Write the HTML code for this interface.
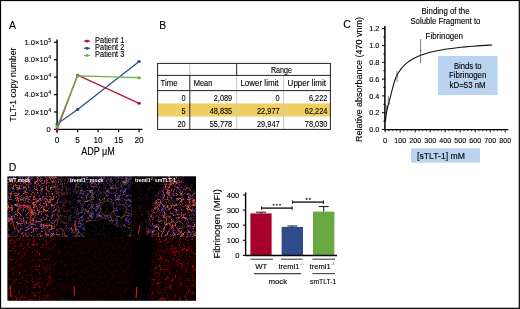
<!DOCTYPE html>
<html><head><meta charset="utf-8"><style>
html,body{margin:0;padding:0;background:#fff;}
svg{display:block;will-change:transform;}
text{font-family:"Liberation Sans", sans-serif;fill:#000;stroke:#000;stroke-width:0.12px;}
</style></head><body>
<svg width="520" height="309" viewBox="0 0 520 309">
<rect x="0" y="0" width="520" height="309" fill="#fff"/>
<text x="9" y="28.5" font-size="11.6" textLength="7" lengthAdjust="spacingAndGlyphs">A</text>
<line x1="57.1" y1="39.5" x2="57.1" y2="132.5" stroke="#000" stroke-width="1.45"/>
<line x1="54" y1="42.3" x2="57" y2="42.3" stroke="#000" stroke-width="1.2"/>
<text x="48" y="44.9" font-size="7.5" text-anchor="end" textLength="23.5" lengthAdjust="spacingAndGlyphs">1.0×10</text>
<text x="48.3" y="41.9" font-size="5.2">5</text>
<line x1="54" y1="59.7" x2="57" y2="59.7" stroke="#000" stroke-width="1.2"/>
<text x="48" y="62.3" font-size="7.5" text-anchor="end" textLength="23.5" lengthAdjust="spacingAndGlyphs">8.0×10</text>
<text x="48.3" y="59.3" font-size="5.2">4</text>
<line x1="54" y1="77.1" x2="57" y2="77.1" stroke="#000" stroke-width="1.2"/>
<text x="48" y="79.7" font-size="7.5" text-anchor="end" textLength="23.5" lengthAdjust="spacingAndGlyphs">6.0×10</text>
<text x="48.3" y="76.7" font-size="5.2">4</text>
<line x1="54" y1="94.6" x2="57" y2="94.6" stroke="#000" stroke-width="1.2"/>
<text x="48" y="97.2" font-size="7.5" text-anchor="end" textLength="23.5" lengthAdjust="spacingAndGlyphs">4.0×10</text>
<text x="48.3" y="94.2" font-size="5.2">4</text>
<line x1="54" y1="112.0" x2="57" y2="112.0" stroke="#000" stroke-width="1.2"/>
<text x="48" y="114.6" font-size="7.5" text-anchor="end" textLength="23.5" lengthAdjust="spacingAndGlyphs">2.0×10</text>
<text x="48.3" y="111.6" font-size="5.2">4</text>
<line x1="54" y1="129.4" x2="57" y2="129.4" stroke="#000" stroke-width="1.2"/>
<text x="50.7" y="132.2" font-size="7.5" text-anchor="end">0</text>
<line x1="56.4" y1="129.4" x2="142.4" y2="129.4" stroke="#000" stroke-width="1.3"/>
<line x1="57.1" y1="129.4" x2="57.1" y2="132.3" stroke="#000" stroke-width="1.2"/>
<text x="57.1" y="143.4" font-size="8.3" text-anchor="middle">0</text>
<line x1="77.6" y1="129.4" x2="77.6" y2="132.3" stroke="#000" stroke-width="1.2"/>
<text x="77.6" y="143.4" font-size="8.3" text-anchor="middle">5</text>
<line x1="98.1" y1="129.4" x2="98.1" y2="132.3" stroke="#000" stroke-width="1.2"/>
<text x="98.1" y="143.4" font-size="8.3" text-anchor="middle">10</text>
<line x1="118.6" y1="129.4" x2="118.6" y2="132.3" stroke="#000" stroke-width="1.2"/>
<text x="118.6" y="143.4" font-size="8.3" text-anchor="middle">15</text>
<line x1="139.1" y1="129.4" x2="139.1" y2="132.3" stroke="#000" stroke-width="1.2"/>
<text x="139.1" y="143.4" font-size="8.3" text-anchor="middle">20</text>
<text x="98" y="155.3" font-size="10.1" text-anchor="middle" textLength="33.6" lengthAdjust="spacingAndGlyphs">ADP μM</text>
<text transform="translate(16.2,84.7) rotate(-90)" font-size="9.5" text-anchor="middle" textLength="74" lengthAdjust="spacingAndGlyphs">TLT-1 copy number</text>
<polyline points="57.10,129.40 77.60,75.20 139.10,103.32" fill="none" stroke="#b3123a" stroke-width="1.25"/>
<ellipse cx="57.10" cy="129.40" rx="1.7" ry="1.5" fill="#b3123a"/>
<ellipse cx="77.60" cy="75.20" rx="1.7" ry="1.5" fill="#b3123a"/>
<ellipse cx="139.10" cy="103.32" rx="1.7" ry="1.5" fill="#b3123a"/>
<polyline points="57.10,123.98 77.60,109.39 139.10,61.44" fill="none" stroke="#2b4a8c" stroke-width="1.25"/>
<ellipse cx="57.10" cy="123.98" rx="1.7" ry="1.5" fill="#2b4a8c"/>
<ellipse cx="77.60" cy="109.39" rx="1.7" ry="1.5" fill="#2b4a8c"/>
<ellipse cx="139.10" cy="61.44" rx="1.7" ry="1.5" fill="#2b4a8c"/>
<polyline points="57.10,126.79 77.60,76.00 139.10,77.70" fill="none" stroke="#69b043" stroke-width="1.25"/>
<ellipse cx="57.10" cy="126.79" rx="1.7" ry="1.5" fill="#69b043"/>
<ellipse cx="77.60" cy="76.00" rx="1.7" ry="1.5" fill="#69b043"/>
<ellipse cx="139.10" cy="77.70" rx="1.7" ry="1.5" fill="#69b043"/>
<line x1="84" y1="41.1" x2="90" y2="41.1" stroke="#b3123a" stroke-width="1.1"/>
<path d="M84.4,41.1 L87,39.5 L89.6,41.1 L87,42.7 Z" fill="#b3123a"/>
<text x="95.1" y="43.0" font-size="8.6" textLength="29.2" lengthAdjust="spacingAndGlyphs">Patient 1</text>
<line x1="84" y1="48.3" x2="90" y2="48.3" stroke="#2b4a8c" stroke-width="1.1"/>
<path d="M84.4,48.3 L87,46.7 L89.6,48.3 L87,49.9 Z" fill="#2b4a8c"/>
<text x="95.1" y="50.2" font-size="8.6" textLength="29.2" lengthAdjust="spacingAndGlyphs">Patient 2</text>
<line x1="84" y1="55.5" x2="90" y2="55.5" stroke="#69b043" stroke-width="1.1"/>
<path d="M84.4,55.5 L87,53.9 L89.6,55.5 L87,57.1 Z" fill="#69b043"/>
<text x="95.1" y="57.4" font-size="8.6" textLength="29.2" lengthAdjust="spacingAndGlyphs">Patient 3</text>
<text x="159.2" y="28.6" font-size="11.4" textLength="6.9" lengthAdjust="spacingAndGlyphs">B</text>
<rect x="157.6" y="103.4" width="172.79999999999998" height="13.199999999999989" fill="#efce62"/>
<line x1="189.8" y1="63.4" x2="189.8" y2="75.4" stroke="#c8c8c8" stroke-width="1"/>
<line x1="236.7" y1="75.4" x2="236.7" y2="129.4" stroke="#c8c8c8" stroke-width="1"/>
<line x1="283.6" y1="75.4" x2="283.6" y2="129.4" stroke="#c8c8c8" stroke-width="1"/>
<line x1="189.8" y1="75.4" x2="189.8" y2="129.4" stroke="#222" stroke-width="1"/>
<line x1="236.7" y1="63.4" x2="236.7" y2="75.4" stroke="#222" stroke-width="1"/>
<line x1="157.6" y1="75.4" x2="330.4" y2="75.4" stroke="#222" stroke-width="1"/>
<line x1="157.6" y1="90.6" x2="330.4" y2="90.6" stroke="#222" stroke-width="1"/>
<rect x="157.6" y="63.4" width="172.79999999999998" height="66.0" fill="none" stroke="#222" stroke-width="1"/>
<text x="281.4" y="72.6" font-size="8.2" text-anchor="middle" textLength="21" lengthAdjust="spacingAndGlyphs">Range</text>
<text x="160.5" y="86.0" font-size="8.2" text-anchor="start" textLength="17" lengthAdjust="spacingAndGlyphs">Time</text>
<text x="193.8" y="86.0" font-size="8.2" text-anchor="start" textLength="18.6" lengthAdjust="spacingAndGlyphs">Mean</text>
<text x="240.4" y="86.0" font-size="8.2" text-anchor="start" textLength="38.2" lengthAdjust="spacingAndGlyphs">Lower limit</text>
<text x="287.6" y="86.0" font-size="8.2" text-anchor="start" textLength="38.4" lengthAdjust="spacingAndGlyphs">Upper limit</text>
<text x="185.6" y="100.89999999999999" font-size="8.2" text-anchor="end" textLength="4.1" lengthAdjust="spacingAndGlyphs">0</text>
<text x="232.2" y="100.89999999999999" font-size="8.2" text-anchor="end" textLength="18.46" lengthAdjust="spacingAndGlyphs">2,089</text>
<text x="279.6" y="100.89999999999999" font-size="8.2" text-anchor="end" textLength="4.1" lengthAdjust="spacingAndGlyphs">0</text>
<text x="327.4" y="100.89999999999999" font-size="8.2" text-anchor="end" textLength="18.46" lengthAdjust="spacingAndGlyphs">6,222</text>
<text x="185.6" y="113.7" font-size="8.2" text-anchor="end" textLength="4.1" lengthAdjust="spacingAndGlyphs">5</text>
<text x="232.2" y="113.7" font-size="8.2" text-anchor="end" textLength="22.57" lengthAdjust="spacingAndGlyphs">48,835</text>
<text x="279.6" y="113.7" font-size="8.2" text-anchor="end" textLength="22.57" lengthAdjust="spacingAndGlyphs">22,977</text>
<text x="327.4" y="113.7" font-size="8.2" text-anchor="end" textLength="22.57" lengthAdjust="spacingAndGlyphs">62,224</text>
<text x="185.6" y="126.89999999999999" font-size="8.2" text-anchor="end" textLength="8.21" lengthAdjust="spacingAndGlyphs">20</text>
<text x="232.2" y="126.89999999999999" font-size="8.2" text-anchor="end" textLength="22.57" lengthAdjust="spacingAndGlyphs">55,778</text>
<text x="279.6" y="126.89999999999999" font-size="8.2" text-anchor="end" textLength="22.57" lengthAdjust="spacingAndGlyphs">29,947</text>
<text x="327.4" y="126.89999999999999" font-size="8.2" text-anchor="end" textLength="22.57" lengthAdjust="spacingAndGlyphs">78,030</text>
<text x="343.2" y="28.4" font-size="11.4" textLength="7.6" lengthAdjust="spacingAndGlyphs">C</text>
<line x1="384.9" y1="26" x2="384.9" y2="130.4" stroke="#000" stroke-width="1.5"/>
<line x1="382" y1="129.5" x2="385.0" y2="129.5" stroke="#000" stroke-width="1"/>
<text x="379.3" y="132.1" font-size="7.3" text-anchor="end">0.0</text>
<line x1="383.3" y1="121.1" x2="385.0" y2="121.1" stroke="#000" stroke-width="1"/>
<line x1="382" y1="112.7" x2="385.0" y2="112.7" stroke="#000" stroke-width="1"/>
<text x="379.3" y="115.3" font-size="7.3" text-anchor="end">0.2</text>
<line x1="383.3" y1="104.3" x2="385.0" y2="104.3" stroke="#000" stroke-width="1"/>
<line x1="382" y1="95.9" x2="385.0" y2="95.9" stroke="#000" stroke-width="1"/>
<text x="379.3" y="98.5" font-size="7.3" text-anchor="end">0.4</text>
<line x1="383.3" y1="87.5" x2="385.0" y2="87.5" stroke="#000" stroke-width="1"/>
<line x1="382" y1="79.1" x2="385.0" y2="79.1" stroke="#000" stroke-width="1"/>
<text x="379.3" y="81.7" font-size="7.3" text-anchor="end">0.6</text>
<line x1="383.3" y1="70.7" x2="385.0" y2="70.7" stroke="#000" stroke-width="1"/>
<line x1="382" y1="62.3" x2="385.0" y2="62.3" stroke="#000" stroke-width="1"/>
<text x="379.3" y="64.9" font-size="7.3" text-anchor="end">0.8</text>
<line x1="383.3" y1="53.9" x2="385.0" y2="53.9" stroke="#000" stroke-width="1"/>
<line x1="382" y1="45.5" x2="385.0" y2="45.5" stroke="#000" stroke-width="1"/>
<text x="379.3" y="48.1" font-size="7.3" text-anchor="end">1.0</text>
<line x1="383.3" y1="37.1" x2="385.0" y2="37.1" stroke="#000" stroke-width="1"/>
<line x1="382" y1="28.7" x2="385.0" y2="28.7" stroke="#000" stroke-width="1"/>
<text x="379.3" y="31.3" font-size="7.3" text-anchor="end">1.2</text>
<line x1="384.5" y1="129.6" x2="508.4" y2="129.6" stroke="#000" stroke-width="1.4"/>
<line x1="385.20" y1="129.7" x2="385.20" y2="132.4" stroke="#000" stroke-width="0.9"/>
<text x="385.20" y="142.8" font-size="7.5" text-anchor="middle">0</text>
<line x1="388.95" y1="129.7" x2="388.95" y2="131.2" stroke="#000" stroke-width="0.8"/>
<line x1="392.70" y1="129.7" x2="392.70" y2="131.2" stroke="#000" stroke-width="0.8"/>
<line x1="396.45" y1="129.7" x2="396.45" y2="131.2" stroke="#000" stroke-width="0.8"/>
<line x1="400.20" y1="129.7" x2="400.20" y2="132.4" stroke="#000" stroke-width="0.9"/>
<text x="400.20" y="142.8" font-size="7.5" text-anchor="middle" textLength="11.8" lengthAdjust="spacingAndGlyphs">100</text>
<line x1="403.95" y1="129.7" x2="403.95" y2="131.2" stroke="#000" stroke-width="0.8"/>
<line x1="407.70" y1="129.7" x2="407.70" y2="131.2" stroke="#000" stroke-width="0.8"/>
<line x1="411.45" y1="129.7" x2="411.45" y2="131.2" stroke="#000" stroke-width="0.8"/>
<line x1="415.20" y1="129.7" x2="415.20" y2="132.4" stroke="#000" stroke-width="0.9"/>
<text x="415.20" y="142.8" font-size="7.5" text-anchor="middle" textLength="11.8" lengthAdjust="spacingAndGlyphs">200</text>
<line x1="418.95" y1="129.7" x2="418.95" y2="131.2" stroke="#000" stroke-width="0.8"/>
<line x1="422.70" y1="129.7" x2="422.70" y2="131.2" stroke="#000" stroke-width="0.8"/>
<line x1="426.45" y1="129.7" x2="426.45" y2="131.2" stroke="#000" stroke-width="0.8"/>
<line x1="430.20" y1="129.7" x2="430.20" y2="132.4" stroke="#000" stroke-width="0.9"/>
<text x="430.20" y="142.8" font-size="7.5" text-anchor="middle" textLength="11.8" lengthAdjust="spacingAndGlyphs">300</text>
<line x1="433.95" y1="129.7" x2="433.95" y2="131.2" stroke="#000" stroke-width="0.8"/>
<line x1="437.70" y1="129.7" x2="437.70" y2="131.2" stroke="#000" stroke-width="0.8"/>
<line x1="441.45" y1="129.7" x2="441.45" y2="131.2" stroke="#000" stroke-width="0.8"/>
<line x1="445.20" y1="129.7" x2="445.20" y2="132.4" stroke="#000" stroke-width="0.9"/>
<text x="445.20" y="142.8" font-size="7.5" text-anchor="middle" textLength="11.8" lengthAdjust="spacingAndGlyphs">400</text>
<line x1="448.95" y1="129.7" x2="448.95" y2="131.2" stroke="#000" stroke-width="0.8"/>
<line x1="452.70" y1="129.7" x2="452.70" y2="131.2" stroke="#000" stroke-width="0.8"/>
<line x1="456.45" y1="129.7" x2="456.45" y2="131.2" stroke="#000" stroke-width="0.8"/>
<line x1="460.20" y1="129.7" x2="460.20" y2="132.4" stroke="#000" stroke-width="0.9"/>
<text x="460.20" y="142.8" font-size="7.5" text-anchor="middle" textLength="11.8" lengthAdjust="spacingAndGlyphs">500</text>
<line x1="463.95" y1="129.7" x2="463.95" y2="131.2" stroke="#000" stroke-width="0.8"/>
<line x1="467.70" y1="129.7" x2="467.70" y2="131.2" stroke="#000" stroke-width="0.8"/>
<line x1="471.45" y1="129.7" x2="471.45" y2="131.2" stroke="#000" stroke-width="0.8"/>
<line x1="475.20" y1="129.7" x2="475.20" y2="132.4" stroke="#000" stroke-width="0.9"/>
<text x="475.20" y="142.8" font-size="7.5" text-anchor="middle" textLength="11.8" lengthAdjust="spacingAndGlyphs">600</text>
<line x1="478.95" y1="129.7" x2="478.95" y2="131.2" stroke="#000" stroke-width="0.8"/>
<line x1="482.70" y1="129.7" x2="482.70" y2="131.2" stroke="#000" stroke-width="0.8"/>
<line x1="486.45" y1="129.7" x2="486.45" y2="131.2" stroke="#000" stroke-width="0.8"/>
<line x1="490.20" y1="129.7" x2="490.20" y2="132.4" stroke="#000" stroke-width="0.9"/>
<text x="490.20" y="142.8" font-size="7.5" text-anchor="middle" textLength="11.8" lengthAdjust="spacingAndGlyphs">700</text>
<line x1="493.95" y1="129.7" x2="493.95" y2="131.2" stroke="#000" stroke-width="0.8"/>
<line x1="497.70" y1="129.7" x2="497.70" y2="131.2" stroke="#000" stroke-width="0.8"/>
<line x1="501.45" y1="129.7" x2="501.45" y2="131.2" stroke="#000" stroke-width="0.8"/>
<line x1="505.20" y1="129.7" x2="505.20" y2="132.4" stroke="#000" stroke-width="0.9"/>
<text x="505.20" y="142.8" font-size="7.5" text-anchor="middle" textLength="11.8" lengthAdjust="spacingAndGlyphs">800</text>
<text transform="translate(362.3,79.5) rotate(-90)" font-size="9.2" text-anchor="middle" textLength="125" lengthAdjust="spacingAndGlyphs">Relative absorbance (470 vnm)</text>
<text x="445.6" y="14" font-size="8.2" text-anchor="middle" textLength="48" lengthAdjust="spacingAndGlyphs">Binding of the</text>
<text x="445.4" y="23.6" font-size="8.2" text-anchor="middle" textLength="70" lengthAdjust="spacingAndGlyphs">Soluble Fragment to</text>
<text x="444.3" y="38.6" font-size="8.2" text-anchor="middle" textLength="37.4" lengthAdjust="spacingAndGlyphs">Fibrinogen</text>
<rect x="438" y="56" width="59.6" height="39" fill="#bad3ef"/>
<text x="467.8" y="68.6" font-size="8.2" text-anchor="middle" textLength="27.6" lengthAdjust="spacingAndGlyphs">Binds to</text>
<text x="467.7" y="78.4" font-size="8.2" text-anchor="middle" textLength="37.4" lengthAdjust="spacingAndGlyphs">Fibrinogen</text>
<text x="467.6" y="88.2" font-size="8.2" text-anchor="middle" textLength="36" lengthAdjust="spacingAndGlyphs">kD=53 nM</text>
<rect x="411" y="148.3" width="69" height="14.3" fill="#bad3ef"/>
<text x="417" y="158.7" font-size="8.5" textLength="48" lengthAdjust="spacingAndGlyphs">[sTLT-1] mM</text>
<line x1="397" y1="71" x2="397" y2="82" stroke="#7a7a7a" stroke-width="0.95"/>
<line x1="420.6" y1="39" x2="420.6" y2="63.2" stroke="#7a7a7a" stroke-width="0.95"/>
<line x1="388.3" y1="96" x2="388.3" y2="104" stroke="#7a7a7a" stroke-width="0.95"/>
<line x1="386.4" y1="105" x2="386.4" y2="112" stroke="#7a7a7a" stroke-width="0.95"/>
<path d="M385.30,122.30 L386.20,114.50 L387.10,109.30 L388.30,104.50 L389.60,99.80 L391.00,94.30 L392.30,89.20 L393.60,84.50 L394.80,80.30 L396.00,77.30 L397.20,74.83 L398.70,72.30 L400.20,70.11 L401.70,68.18 L403.20,66.47 L404.70,64.95 L406.20,63.59 L407.70,62.37 L409.20,61.25 L410.70,60.24 L412.20,59.32 L413.70,58.47 L415.20,57.68 L416.70,56.96 L418.20,56.29 L419.70,55.67 L421.20,55.09 L425.20,53.72 L429.20,52.56 L433.20,51.57 L437.20,50.71 L441.20,49.96 L445.20,49.29 L449.20,48.70 L453.20,48.18 L457.20,47.70 L461.20,47.27 L465.20,46.88 L469.20,46.52 L473.20,46.20 L477.20,45.90 L481.20,45.62 L485.20,45.36 L489.20,45.12 L491.60,44.99" fill="none" stroke="#111" stroke-width="1.1"/>
<circle cx="385.3" cy="122.3" r="0.8" fill="#2b56b0"/>
<circle cx="386.5" cy="110" r="0.8" fill="#2b56b0"/>
<circle cx="389.2" cy="103.6" r="0.8" fill="#2b56b0"/>
<circle cx="397" cy="76.6" r="0.8" fill="#2b56b0"/>
<circle cx="420.6" cy="50.8" r="0.8" fill="#2b56b0"/>
<circle cx="491.6" cy="45.2" r="0.8" fill="#2b56b0"/>
<text x="8.8" y="170.6" font-size="11.2" textLength="7.6" lengthAdjust="spacingAndGlyphs">D</text>
<line x1="242.8" y1="255.4" x2="245.6" y2="255.4" stroke="#000" stroke-width="1"/>
<text x="239.3" y="258.0" font-size="7.5" text-anchor="end">0</text>
<line x1="242.8" y1="240.3" x2="245.6" y2="240.3" stroke="#000" stroke-width="1"/>
<text x="239.3" y="242.9" font-size="7.5" text-anchor="end">100</text>
<line x1="242.8" y1="225.2" x2="245.6" y2="225.2" stroke="#000" stroke-width="1"/>
<text x="239.3" y="227.8" font-size="7.5" text-anchor="end">200</text>
<line x1="242.8" y1="210.1" x2="245.6" y2="210.1" stroke="#000" stroke-width="1"/>
<text x="239.3" y="212.7" font-size="7.5" text-anchor="end">300</text>
<line x1="242.8" y1="195.0" x2="245.6" y2="195.0" stroke="#000" stroke-width="1"/>
<text x="239.3" y="197.6" font-size="7.5" text-anchor="end">400</text>
<rect x="250.4" y="213.4" width="21.2" height="42.0" fill="#a8002c"/>
<line x1="261.0" y1="212.2" x2="261.0" y2="213.4" stroke="#111" stroke-width="1"/>
<line x1="256.0" y1="212.2" x2="266.0" y2="212.2" stroke="#111" stroke-width="1"/>
<rect x="281.6" y="226.9" width="21.4" height="28.5" fill="#2e4c8a"/>
<line x1="292.3" y1="226.0" x2="292.3" y2="226.9" stroke="#111" stroke-width="1"/>
<line x1="287.3" y1="226.0" x2="297.3" y2="226.0" stroke="#111" stroke-width="1"/>
<rect x="313" y="211.6" width="21.4" height="43.8" fill="#6aa843"/>
<line x1="323.7" y1="206.6" x2="323.7" y2="211.6" stroke="#111" stroke-width="1"/>
<line x1="318.7" y1="206.6" x2="328.7" y2="206.6" stroke="#111" stroke-width="1"/>
<line x1="245.6" y1="192.4" x2="245.6" y2="256" stroke="#000" stroke-width="1.4"/>
<line x1="245" y1="255.5" x2="337" y2="255.5" stroke="#000" stroke-width="1.4"/>
<circle cx="273.6" cy="204.8" r="1.05" fill="#444"/>
<circle cx="276.8" cy="204.8" r="1.05" fill="#444"/>
<circle cx="280.0" cy="204.8" r="1.05" fill="#444"/>
<circle cx="306.6" cy="198.9" r="1.05" fill="#444"/>
<circle cx="309.8" cy="198.9" r="1.05" fill="#444"/>
<line x1="261.6" y1="208.1" x2="292.2" y2="208.1" stroke="#111" stroke-width="1.35"/>
<line x1="261.6" y1="206.29999999999998" x2="261.6" y2="209.9" stroke="#111" stroke-width="1"/>
<line x1="292.2" y1="206.29999999999998" x2="292.2" y2="209.9" stroke="#111" stroke-width="1"/>
<line x1="292.6" y1="202.1" x2="323.4" y2="202.1" stroke="#111" stroke-width="1.35"/>
<line x1="292.6" y1="200.29999999999998" x2="292.6" y2="203.9" stroke="#111" stroke-width="1"/>
<line x1="323.4" y1="200.29999999999998" x2="323.4" y2="203.9" stroke="#111" stroke-width="1"/>
<line x1="250.4" y1="259.2" x2="273" y2="259.2" stroke="#444" stroke-width="1.1"/>
<line x1="281" y1="259.2" x2="302.6" y2="259.2" stroke="#444" stroke-width="1.1"/>
<line x1="312.4" y1="259.2" x2="335" y2="259.2" stroke="#444" stroke-width="1.1"/>
<line x1="254" y1="273.6" x2="301" y2="273.6" stroke="#444" stroke-width="1.1"/>
<line x1="312.4" y1="273.6" x2="335" y2="273.6" stroke="#444" stroke-width="1.1"/>
<text x="261.3" y="269.2" font-size="7.8" text-anchor="middle">WT</text>
<text x="278.4" y="269.2" font-size="7.8" textLength="21" lengthAdjust="spacingAndGlyphs">treml1</text>
<text x="300.0" y="264.6" font-size="4.4" style="fill:#555;stroke:none">-/-</text>
<text x="309.6" y="269.2" font-size="7.8" textLength="21" lengthAdjust="spacingAndGlyphs">treml1</text>
<text x="331.20000000000005" y="264.6" font-size="4.4" style="fill:#555;stroke:none">-/-</text>
<text x="277.8" y="284.2" font-size="7.8" text-anchor="middle">mock</text>
<text x="323.2" y="284.2" font-size="7.8" text-anchor="middle" textLength="26.4" lengthAdjust="spacingAndGlyphs">smTLT-1</text>
<text transform="translate(220.2,223.8) rotate(-90)" font-size="8.8" text-anchor="middle" textLength="69.5" lengthAdjust="spacingAndGlyphs">Fibrinogen (MFI)</text>
<defs><filter id="bl3" x="-50%" y="-50%" width="200%" height="200%"><feGaussianBlur stdDeviation="3"/></filter>
<filter id="bl2" x="-50%" y="-50%" width="200%" height="200%"><feGaussianBlur stdDeviation="1.5"/></filter>
<filter id="mbl" filterUnits="userSpaceOnUse" x="7.6" y="176.6" width="188.4" height="124.00000000000003"><feGaussianBlur stdDeviation="0.4"/></filter>
<filter id="bl1" x="-50%" y="-50%" width="200%" height="200%"><feGaussianBlur stdDeviation="0.7"/></filter>
<clipPath id="cp0"><rect x="7.6" y="176.6" width="59.6" height="60.400000000000006"/></clipPath>
<clipPath id="cp1"><rect x="67.2" y="176.6" width="64.60000000000001" height="60.400000000000006"/></clipPath>
<clipPath id="cp2"><rect x="131.8" y="176.6" width="64.19999999999999" height="60.400000000000006"/></clipPath>
<clipPath id="cp3"><rect x="7.6" y="237.0" width="59.6" height="63.60000000000002"/></clipPath>
<clipPath id="cp4"><rect x="67.2" y="237.0" width="64.60000000000001" height="63.60000000000002"/></clipPath>
<clipPath id="cp5"><rect x="131.8" y="237.0" width="64.19999999999999" height="63.60000000000002"/></clipPath>
<filter id="ulM" filterUnits="userSpaceOnUse" x="7.6" y="176.6" width="59.6" height="60.400000000000006" color-interpolation-filters="sRGB">
<feTurbulence type="fractalNoise" baseFrequency="0.35" numOctaves="2" seed="11"/>
<feColorMatrix type="matrix" values="1 0 0 0 0  0.5 0.5 0 0 0  0.35 0 0.65 0 0  0 0 0 0 1"/>
<feComponentTransfer>
<feFuncR type="linear" slope="0.45" intercept="-0.17"/>
<feFuncG type="linear" slope="0.2" intercept="-0.08"/>
<feFuncB type="linear" slope="0.38" intercept="-0.14"/>
</feComponentTransfer>
</filter>
<filter id="ulN" filterUnits="userSpaceOnUse" x="7.6" y="176.6" width="59.6" height="60.400000000000006" color-interpolation-filters="sRGB">
<feTurbulence type="fractalNoise" baseFrequency="0.17" numOctaves="2" seed="12"/>
<feColorMatrix type="matrix" values="1 0 0 0 0  1 0 0 0 0  1 0 0 0 0  0 0 0 0 1"/>
<feComponentTransfer>
<feFuncR type="table" tableValues="0.000 0.000 0.000 0.000 0.000 0.000 0.000 0.000 0.000 0.000 0.000 0.000 0.000 0.000 0.000 0.000 0.000 0.000 0.000 0.000 0.000 0.000 0.000 0.000 0.000 0.000 0.000 0.000 0.213 0.516 0.820 0.516 0.213 0.000 0.000 0.000 0.000 0.000 0.000 0.000 0.000 0.000 0.000 0.000 0.000 0.000 0.000 0.000 0.000 0.000 0.000 0.000 0.000 0.000 0.000 0.000 0.000 0.000 0.000 0.000 0.000"/>
<feFuncG type="table" tableValues="0.000 0.000 0.000 0.000 0.000 0.000 0.000 0.000 0.000 0.000 0.000 0.000 0.000 0.000 0.000 0.000 0.000 0.000 0.000 0.000 0.000 0.000 0.000 0.000 0.000 0.000 0.000 0.000 0.078 0.189 0.300 0.189 0.078 0.000 0.000 0.000 0.000 0.000 0.000 0.000 0.000 0.000 0.000 0.000 0.000 0.000 0.000 0.000 0.000 0.000 0.000 0.000 0.000 0.000 0.000 0.000 0.000 0.000 0.000 0.000 0.000"/>
<feFuncB type="table" tableValues="0.000 0.000 0.000 0.000 0.000 0.000 0.000 0.000 0.000 0.000 0.000 0.000 0.000 0.000 0.000 0.000 0.000 0.000 0.000 0.000 0.000 0.000 0.000 0.000 0.000 0.000 0.000 0.000 0.039 0.094 0.150 0.094 0.039 0.000 0.000 0.000 0.000 0.000 0.000 0.000 0.000 0.000 0.000 0.000 0.000 0.000 0.000 0.000 0.000 0.000 0.000 0.000 0.000 0.000 0.000 0.000 0.000 0.000 0.000 0.000 0.000"/>
</feComponentTransfer>
</filter>
<filter id="ulP" filterUnits="userSpaceOnUse" x="7.6" y="176.6" width="59.6" height="60.400000000000006" color-interpolation-filters="sRGB">
<feTurbulence type="fractalNoise" baseFrequency="0.19" numOctaves="2" seed="13"/>
<feColorMatrix type="matrix" values="0 0 1 0 0  0 0 1 0 0  0 0 1 0 0  0 0 0 0 1"/>
<feComponentTransfer>
<feFuncR type="table" tableValues="0.000 0.000 0.000 0.000 0.000 0.000 0.000 0.000 0.000 0.000 0.000 0.000 0.000 0.000 0.000 0.000 0.000 0.000 0.000 0.000 0.000 0.000 0.000 0.000 0.000 0.000 0.000 0.000 0.053 0.187 0.320 0.187 0.053 0.000 0.000 0.000 0.000 0.000 0.000 0.000 0.000 0.000 0.000 0.000 0.000 0.000 0.000 0.000 0.000 0.000 0.000 0.000 0.000 0.000 0.000 0.000 0.000 0.000 0.000 0.000 0.000"/>
<feFuncG type="table" tableValues="0.000 0.000 0.000 0.000 0.000 0.000 0.000 0.000 0.000 0.000 0.000 0.000 0.000 0.000 0.000 0.000 0.000 0.000 0.000 0.000 0.000 0.000 0.000 0.000 0.000 0.000 0.000 0.000 0.033 0.117 0.200 0.117 0.033 0.000 0.000 0.000 0.000 0.000 0.000 0.000 0.000 0.000 0.000 0.000 0.000 0.000 0.000 0.000 0.000 0.000 0.000 0.000 0.000 0.000 0.000 0.000 0.000 0.000 0.000 0.000 0.000"/>
<feFuncB type="table" tableValues="0.000 0.000 0.000 0.000 0.000 0.000 0.000 0.000 0.000 0.000 0.000 0.000 0.000 0.000 0.000 0.000 0.000 0.000 0.000 0.000 0.000 0.000 0.000 0.000 0.000 0.000 0.000 0.000 0.087 0.303 0.520 0.303 0.087 0.000 0.000 0.000 0.000 0.000 0.000 0.000 0.000 0.000 0.000 0.000 0.000 0.000 0.000 0.000 0.000 0.000 0.000 0.000 0.000 0.000 0.000 0.000 0.000 0.000 0.000 0.000 0.000"/>
</feComponentTransfer>
</filter>
<filter id="umM" filterUnits="userSpaceOnUse" x="67.2" y="176.6" width="64.60000000000001" height="60.400000000000006" color-interpolation-filters="sRGB">
<feTurbulence type="fractalNoise" baseFrequency="0.35" numOctaves="2" seed="21"/>
<feColorMatrix type="matrix" values="1 0 0 0 0  0.5 0.5 0 0 0  0.2 0 0.8 0 0  0 0 0 0 1"/>
<feComponentTransfer>
<feFuncR type="linear" slope="0.4" intercept="-0.16"/>
<feFuncG type="linear" slope="0.25" intercept="-0.1"/>
<feFuncB type="linear" slope="0.5" intercept="-0.19"/>
</feComponentTransfer>
</filter>
<filter id="umB" filterUnits="userSpaceOnUse" x="67.2" y="176.6" width="64.60000000000001" height="60.400000000000006" color-interpolation-filters="sRGB">
<feTurbulence type="fractalNoise" baseFrequency="0.12" numOctaves="2" seed="22"/>
<feColorMatrix type="matrix" values="1 0 0 0 0  1 0 0 0 0  1 0 0 0 0  0 0 0 0 1"/>
<feComponentTransfer>
<feFuncR type="table" tableValues="0.000 0.000 0.000 0.000 0.000 0.000 0.000 0.000 0.000 0.000 0.000 0.000 0.000 0.000 0.000 0.000 0.000 0.000 0.000 0.000 0.000 0.000 0.000 0.000 0.000 0.000 0.000 0.000 0.000 0.187 0.420 0.187 0.000 0.000 0.000 0.000 0.000 0.000 0.000 0.000 0.000 0.000 0.000 0.000 0.000 0.000 0.000 0.000 0.000 0.000 0.000 0.000 0.000 0.000 0.000 0.000 0.000 0.000 0.000 0.000 0.000"/>
<feFuncG type="table" tableValues="0.000 0.000 0.000 0.000 0.000 0.000 0.000 0.000 0.000 0.000 0.000 0.000 0.000 0.000 0.000 0.000 0.000 0.000 0.000 0.000 0.000 0.000 0.000 0.000 0.000 0.000 0.000 0.000 0.000 0.120 0.270 0.120 0.000 0.000 0.000 0.000 0.000 0.000 0.000 0.000 0.000 0.000 0.000 0.000 0.000 0.000 0.000 0.000 0.000 0.000 0.000 0.000 0.000 0.000 0.000 0.000 0.000 0.000 0.000 0.000 0.000"/>
<feFuncB type="table" tableValues="0.000 0.000 0.000 0.000 0.000 0.000 0.000 0.000 0.000 0.000 0.000 0.000 0.000 0.000 0.000 0.000 0.000 0.000 0.000 0.000 0.000 0.000 0.000 0.000 0.000 0.000 0.000 0.000 0.000 0.062 0.140 0.062 0.000 0.000 0.000 0.000 0.000 0.000 0.000 0.000 0.000 0.000 0.000 0.000 0.000 0.000 0.000 0.000 0.000 0.000 0.000 0.000 0.000 0.000 0.000 0.000 0.000 0.000 0.000 0.000 0.000"/>
</feComponentTransfer>
</filter>
<filter id="umP" filterUnits="userSpaceOnUse" x="67.2" y="176.6" width="64.60000000000001" height="60.400000000000006" color-interpolation-filters="sRGB">
<feTurbulence type="fractalNoise" baseFrequency="0.17" numOctaves="2" seed="23"/>
<feColorMatrix type="matrix" values="0 0 1 0 0  0 0 1 0 0  0 0 1 0 0  0 0 0 0 1"/>
<feComponentTransfer>
<feFuncR type="table" tableValues="0.000 0.000 0.000 0.000 0.000 0.000 0.000 0.000 0.000 0.000 0.000 0.000 0.000 0.000 0.000 0.000 0.000 0.000 0.000 0.000 0.000 0.000 0.000 0.000 0.000 0.000 0.000 0.000 0.053 0.187 0.320 0.187 0.053 0.000 0.000 0.000 0.000 0.000 0.000 0.000 0.000 0.000 0.000 0.000 0.000 0.000 0.000 0.000 0.000 0.000 0.000 0.000 0.000 0.000 0.000 0.000 0.000 0.000 0.000 0.000 0.000"/>
<feFuncG type="table" tableValues="0.000 0.000 0.000 0.000 0.000 0.000 0.000 0.000 0.000 0.000 0.000 0.000 0.000 0.000 0.000 0.000 0.000 0.000 0.000 0.000 0.000 0.000 0.000 0.000 0.000 0.000 0.000 0.000 0.033 0.117 0.200 0.117 0.033 0.000 0.000 0.000 0.000 0.000 0.000 0.000 0.000 0.000 0.000 0.000 0.000 0.000 0.000 0.000 0.000 0.000 0.000 0.000 0.000 0.000 0.000 0.000 0.000 0.000 0.000 0.000 0.000"/>
<feFuncB type="table" tableValues="0.000 0.000 0.000 0.000 0.000 0.000 0.000 0.000 0.000 0.000 0.000 0.000 0.000 0.000 0.000 0.000 0.000 0.000 0.000 0.000 0.000 0.000 0.000 0.000 0.000 0.000 0.000 0.000 0.092 0.321 0.550 0.321 0.092 0.000 0.000 0.000 0.000 0.000 0.000 0.000 0.000 0.000 0.000 0.000 0.000 0.000 0.000 0.000 0.000 0.000 0.000 0.000 0.000 0.000 0.000 0.000 0.000 0.000 0.000 0.000 0.000"/>
</feComponentTransfer>
</filter>
<filter id="urM" filterUnits="userSpaceOnUse" x="131.8" y="176.6" width="64.19999999999999" height="60.400000000000006" color-interpolation-filters="sRGB">
<feTurbulence type="fractalNoise" baseFrequency="0.35" numOctaves="2" seed="31"/>
<feColorMatrix type="matrix" values="1 0 0 0 0  0.5 0.5 0 0 0  0.35 0 0.65 0 0  0 0 0 0 1"/>
<feComponentTransfer>
<feFuncR type="linear" slope="0.45" intercept="-0.17"/>
<feFuncG type="linear" slope="0.2" intercept="-0.08"/>
<feFuncB type="linear" slope="0.35" intercept="-0.13"/>
</feComponentTransfer>
</filter>
<filter id="urN" filterUnits="userSpaceOnUse" x="131.8" y="176.6" width="64.19999999999999" height="60.400000000000006" color-interpolation-filters="sRGB">
<feTurbulence type="fractalNoise" baseFrequency="0.17" numOctaves="2" seed="32"/>
<feColorMatrix type="matrix" values="1 0 0 0 0  1 0 0 0 0  1 0 0 0 0  0 0 0 0 1"/>
<feComponentTransfer>
<feFuncR type="table" tableValues="0.000 0.000 0.000 0.000 0.000 0.000 0.000 0.000 0.000 0.000 0.000 0.000 0.000 0.000 0.000 0.000 0.000 0.000 0.000 0.000 0.000 0.000 0.000 0.000 0.000 0.000 0.000 0.000 0.207 0.504 0.800 0.504 0.207 0.000 0.000 0.000 0.000 0.000 0.000 0.000 0.000 0.000 0.000 0.000 0.000 0.000 0.000 0.000 0.000 0.000 0.000 0.000 0.000 0.000 0.000 0.000 0.000 0.000 0.000 0.000 0.000"/>
<feFuncG type="table" tableValues="0.000 0.000 0.000 0.000 0.000 0.000 0.000 0.000 0.000 0.000 0.000 0.000 0.000 0.000 0.000 0.000 0.000 0.000 0.000 0.000 0.000 0.000 0.000 0.000 0.000 0.000 0.000 0.000 0.073 0.176 0.280 0.176 0.073 0.000 0.000 0.000 0.000 0.000 0.000 0.000 0.000 0.000 0.000 0.000 0.000 0.000 0.000 0.000 0.000 0.000 0.000 0.000 0.000 0.000 0.000 0.000 0.000 0.000 0.000 0.000 0.000"/>
<feFuncB type="table" tableValues="0.000 0.000 0.000 0.000 0.000 0.000 0.000 0.000 0.000 0.000 0.000 0.000 0.000 0.000 0.000 0.000 0.000 0.000 0.000 0.000 0.000 0.000 0.000 0.000 0.000 0.000 0.000 0.000 0.039 0.094 0.150 0.094 0.039 0.000 0.000 0.000 0.000 0.000 0.000 0.000 0.000 0.000 0.000 0.000 0.000 0.000 0.000 0.000 0.000 0.000 0.000 0.000 0.000 0.000 0.000 0.000 0.000 0.000 0.000 0.000 0.000"/>
</feComponentTransfer>
</filter>
<filter id="urP" filterUnits="userSpaceOnUse" x="131.8" y="176.6" width="64.19999999999999" height="60.400000000000006" color-interpolation-filters="sRGB">
<feTurbulence type="fractalNoise" baseFrequency="0.19" numOctaves="2" seed="33"/>
<feColorMatrix type="matrix" values="0 0 1 0 0  0 0 1 0 0  0 0 1 0 0  0 0 0 0 1"/>
<feComponentTransfer>
<feFuncR type="table" tableValues="0.000 0.000 0.000 0.000 0.000 0.000 0.000 0.000 0.000 0.000 0.000 0.000 0.000 0.000 0.000 0.000 0.000 0.000 0.000 0.000 0.000 0.000 0.000 0.000 0.000 0.000 0.000 0.000 0.050 0.175 0.300 0.175 0.050 0.000 0.000 0.000 0.000 0.000 0.000 0.000 0.000 0.000 0.000 0.000 0.000 0.000 0.000 0.000 0.000 0.000 0.000 0.000 0.000 0.000 0.000 0.000 0.000 0.000 0.000 0.000 0.000"/>
<feFuncG type="table" tableValues="0.000 0.000 0.000 0.000 0.000 0.000 0.000 0.000 0.000 0.000 0.000 0.000 0.000 0.000 0.000 0.000 0.000 0.000 0.000 0.000 0.000 0.000 0.000 0.000 0.000 0.000 0.000 0.000 0.030 0.105 0.180 0.105 0.030 0.000 0.000 0.000 0.000 0.000 0.000 0.000 0.000 0.000 0.000 0.000 0.000 0.000 0.000 0.000 0.000 0.000 0.000 0.000 0.000 0.000 0.000 0.000 0.000 0.000 0.000 0.000 0.000"/>
<feFuncB type="table" tableValues="0.000 0.000 0.000 0.000 0.000 0.000 0.000 0.000 0.000 0.000 0.000 0.000 0.000 0.000 0.000 0.000 0.000 0.000 0.000 0.000 0.000 0.000 0.000 0.000 0.000 0.000 0.000 0.000 0.080 0.280 0.480 0.280 0.080 0.000 0.000 0.000 0.000 0.000 0.000 0.000 0.000 0.000 0.000 0.000 0.000 0.000 0.000 0.000 0.000 0.000 0.000 0.000 0.000 0.000 0.000 0.000 0.000 0.000 0.000 0.000 0.000"/>
</feComponentTransfer>
</filter>
<filter id="llM" filterUnits="userSpaceOnUse" x="7.6" y="237.0" width="59.6" height="63.60000000000002" color-interpolation-filters="sRGB">
<feTurbulence type="fractalNoise" baseFrequency="0.33" numOctaves="2" seed="41"/>
<feColorMatrix type="matrix" values="1 0 0 0 0  0.5 0.5 0 0 0  0.35 0 0.65 0 0  0 0 0 0 1"/>
<feComponentTransfer>
<feFuncR type="linear" slope="0.35" intercept="-0.12"/>
<feFuncG type="linear" slope="0.02" intercept="-0.01"/>
<feFuncB type="linear" slope="0.03" intercept="-0.01"/>
</feComponentTransfer>
</filter>
<filter id="llN" filterUnits="userSpaceOnUse" x="7.6" y="237.0" width="59.6" height="63.60000000000002" color-interpolation-filters="sRGB">
<feTurbulence type="fractalNoise" baseFrequency="0.15" numOctaves="2" seed="42"/>
<feColorMatrix type="matrix" values="1 0 0 0 0  1 0 0 0 0  1 0 0 0 0  0 0 0 0 1"/>
<feComponentTransfer>
<feFuncR type="table" tableValues="0.000 0.000 0.000 0.000 0.000 0.000 0.000 0.000 0.000 0.000 0.000 0.000 0.000 0.000 0.000 0.000 0.000 0.000 0.000 0.000 0.000 0.000 0.000 0.000 0.000 0.000 0.000 0.000 0.000 0.222 0.500 0.222 0.000 0.000 0.000 0.000 0.000 0.000 0.000 0.000 0.000 0.000 0.000 0.000 0.000 0.000 0.000 0.000 0.000 0.000 0.000 0.000 0.000 0.000 0.000 0.000 0.000 0.000 0.000 0.000 0.000"/>
<feFuncG type="table" tableValues="0.000 0.000 0.000 0.000 0.000 0.000 0.000 0.000 0.000 0.000 0.000 0.000 0.000 0.000 0.000 0.000 0.000 0.000 0.000 0.000 0.000 0.000 0.000 0.000 0.000 0.000 0.000 0.000 0.000 0.013 0.030 0.013 0.000 0.000 0.000 0.000 0.000 0.000 0.000 0.000 0.000 0.000 0.000 0.000 0.000 0.000 0.000 0.000 0.000 0.000 0.000 0.000 0.000 0.000 0.000 0.000 0.000 0.000 0.000 0.000 0.000"/>
<feFuncB type="table" tableValues="0.000 0.000 0.000 0.000 0.000 0.000 0.000 0.000 0.000 0.000 0.000 0.000 0.000 0.000 0.000 0.000 0.000 0.000 0.000 0.000 0.000 0.000 0.000 0.000 0.000 0.000 0.000 0.000 0.000 0.013 0.030 0.013 0.000 0.000 0.000 0.000 0.000 0.000 0.000 0.000 0.000 0.000 0.000 0.000 0.000 0.000 0.000 0.000 0.000 0.000 0.000 0.000 0.000 0.000 0.000 0.000 0.000 0.000 0.000 0.000 0.000"/>
</feComponentTransfer>
</filter>
<filter id="lmM" filterUnits="userSpaceOnUse" x="67.2" y="237.0" width="64.60000000000001" height="63.60000000000002" color-interpolation-filters="sRGB">
<feTurbulence type="fractalNoise" baseFrequency="0.33" numOctaves="2" seed="51"/>
<feColorMatrix type="matrix" values="1 0 0 0 0  0.5 0.5 0 0 0  0.35 0 0.65 0 0  0 0 0 0 1"/>
<feComponentTransfer>
<feFuncR type="linear" slope="0.3" intercept="-0.1"/>
<feFuncG type="linear" slope="0.02" intercept="-0.01"/>
<feFuncB type="linear" slope="0.03" intercept="-0.01"/>
</feComponentTransfer>
</filter>
<filter id="lrM" filterUnits="userSpaceOnUse" x="131.8" y="237.0" width="64.19999999999999" height="63.60000000000002" color-interpolation-filters="sRGB">
<feTurbulence type="fractalNoise" baseFrequency="0.33" numOctaves="2" seed="61"/>
<feColorMatrix type="matrix" values="1 0 0 0 0  0.5 0.5 0 0 0  0.35 0 0.65 0 0  0 0 0 0 1"/>
<feComponentTransfer>
<feFuncR type="linear" slope="0.4" intercept="-0.13"/>
<feFuncG type="linear" slope="0.02" intercept="-0.01"/>
<feFuncB type="linear" slope="0.03" intercept="-0.01"/>
</feComponentTransfer>
</filter>
<filter id="lrN" filterUnits="userSpaceOnUse" x="131.8" y="237.0" width="64.19999999999999" height="63.60000000000002" color-interpolation-filters="sRGB">
<feTurbulence type="fractalNoise" baseFrequency="0.15" numOctaves="2" seed="62"/>
<feColorMatrix type="matrix" values="1 0 0 0 0  1 0 0 0 0  1 0 0 0 0  0 0 0 0 1"/>
<feComponentTransfer>
<feFuncR type="table" tableValues="0.000 0.000 0.000 0.000 0.000 0.000 0.000 0.000 0.000 0.000 0.000 0.000 0.000 0.000 0.000 0.000 0.000 0.000 0.000 0.000 0.000 0.000 0.000 0.000 0.000 0.000 0.000 0.000 0.000 0.267 0.600 0.267 0.000 0.000 0.000 0.000 0.000 0.000 0.000 0.000 0.000 0.000 0.000 0.000 0.000 0.000 0.000 0.000 0.000 0.000 0.000 0.000 0.000 0.000 0.000 0.000 0.000 0.000 0.000 0.000 0.000"/>
<feFuncG type="table" tableValues="0.000 0.000 0.000 0.000 0.000 0.000 0.000 0.000 0.000 0.000 0.000 0.000 0.000 0.000 0.000 0.000 0.000 0.000 0.000 0.000 0.000 0.000 0.000 0.000 0.000 0.000 0.000 0.000 0.000 0.013 0.030 0.013 0.000 0.000 0.000 0.000 0.000 0.000 0.000 0.000 0.000 0.000 0.000 0.000 0.000 0.000 0.000 0.000 0.000 0.000 0.000 0.000 0.000 0.000 0.000 0.000 0.000 0.000 0.000 0.000 0.000"/>
<feFuncB type="table" tableValues="0.000 0.000 0.000 0.000 0.000 0.000 0.000 0.000 0.000 0.000 0.000 0.000 0.000 0.000 0.000 0.000 0.000 0.000 0.000 0.000 0.000 0.000 0.000 0.000 0.000 0.000 0.000 0.000 0.000 0.013 0.030 0.013 0.000 0.000 0.000 0.000 0.000 0.000 0.000 0.000 0.000 0.000 0.000 0.000 0.000 0.000 0.000 0.000 0.000 0.000 0.000 0.000 0.000 0.000 0.000 0.000 0.000 0.000 0.000 0.000 0.000"/>
</feComponentTransfer>
</filter></defs>
<g filter="url(#mbl)">
<rect x="7.6" y="176.6" width="188.4" height="124.00000000000003" fill="#050102"/>
<g clip-path="url(#cp0)"><rect x="7.6" y="176.6" width="59.6" height="60.400000000000006" filter="url(#ulM)"/><rect x="7.6" y="176.6" width="59.6" height="60.400000000000006" filter="url(#ulN)" style="mix-blend-mode:screen"/><rect x="7.6" y="176.6" width="59.6" height="60.400000000000006" filter="url(#ulP)" style="mix-blend-mode:screen"/><ellipse cx="63" cy="207" rx="5" ry="30" fill="#000" opacity="0.7" filter="url(#bl3)"/><ellipse cx="12" cy="230" rx="6" ry="9" fill="#000" opacity="0.6" filter="url(#bl2)"/><ellipse cx="59" cy="186" rx="3.5" ry="7" fill="none" stroke="#6a3a30" stroke-width="0.8"/><path d="M17,214 l1,-5 l3,-3 l4,-1 l3,2 l2,4 l1,5 l-1,4 l1,5" fill="none" stroke="#e03020" stroke-width="1.1" opacity="0.8"/><path d="M12,220 l3,10" stroke="#e02020" stroke-width="1.2" opacity="0.8"/></g>
<g clip-path="url(#cp1)"><rect x="67.2" y="176.6" width="64.60000000000001" height="60.400000000000006" filter="url(#umM)"/><rect x="67.2" y="176.6" width="64.60000000000001" height="60.400000000000006" filter="url(#umB)" style="mix-blend-mode:screen"/><rect x="67.2" y="176.6" width="64.60000000000001" height="60.400000000000006" filter="url(#umP)" style="mix-blend-mode:screen"/><path d="M84,238 L85,224 Q90,219 97,221 Q103,216 109,220 Q114,226 119,227 Q124,226 129,229 L129,238 Z" fill="#000" opacity="0.85" filter="url(#bl1)"/><path d="M101,203 Q107,199 113,203 Q115,210 111,215 Q104,217 101,212 Z" fill="#000" opacity="0.75" filter="url(#bl1)"/><path d="M118,205 Q124,203 127,208 Q126,215 121,218 Q117,214 118,205 Z" fill="#000" opacity="0.7" filter="url(#bl1)"/><path d="M101,203 Q107,199 113,203 Q115,210 111,215 Q104,217 101,212 Z" fill="none" stroke="#9a7040" stroke-width="0.6" opacity="0.7"/><path d="M118,205 Q124,203 127,208 Q126,215 121,218" fill="none" stroke="#a07a48" stroke-width="0.6" opacity="0.7"/><path d="M85,224 Q90,219 97,221 Q103,216 109,220 Q114,226 119,227" fill="none" stroke="#806040" stroke-width="0.5" opacity="0.7"/><rect x="67.2" y="184" width="9" height="40" fill="#000" opacity="0.55" filter="url(#bl2)"/><path d="M75,220 l1,12" stroke="#d02020" stroke-width="1.2" opacity="0.9"/></g>
<g clip-path="url(#cp2)"><rect x="131.8" y="176.6" width="64.19999999999999" height="60.400000000000006" filter="url(#urM)"/><rect x="131.8" y="176.6" width="64.19999999999999" height="60.400000000000006" filter="url(#urN)" style="mix-blend-mode:screen"/><rect x="131.8" y="176.6" width="64.19999999999999" height="60.400000000000006" filter="url(#urP)" style="mix-blend-mode:screen"/><path d="M128.8,173.6 L168,173.6 L162,186 L156,196 L150,214 L146,240.0 L128.8,240.0 Z" fill="#000" opacity="0.85" filter="url(#bl2)"/><path d="M176,173.6 L199.0,173.6 L199.0,198 L190,188 L182,181 Z" fill="#000" opacity="0.85" filter="url(#bl2)"/><path d="M140,225 l-2,10" stroke="#d02020" stroke-width="1.2" opacity="0.9"/></g>
<g clip-path="url(#cp3)"><rect x="7.6" y="237.0" width="59.6" height="63.60000000000002" filter="url(#llM)"/><rect x="7.6" y="237.0" width="59.6" height="63.60000000000002" filter="url(#llN)" style="mix-blend-mode:screen"/><rect x="52" y="237.0" width="18" height="63.60000000000002" fill="#000" opacity="0.5" filter="url(#bl3)"/><path d="M10,285 l1,12" stroke="#c01818" stroke-width="1.2"/></g>
<g clip-path="url(#cp4)"><rect x="67.2" y="237.0" width="64.60000000000001" height="63.60000000000002" filter="url(#lmM)"/><path d="M74,286 l0.5,10" stroke="#b01818" stroke-width="1.2"/></g>
<g clip-path="url(#cp5)"><rect x="131.8" y="237.0" width="64.19999999999999" height="63.60000000000002" filter="url(#lrM)"/><rect x="131.8" y="237.0" width="64.19999999999999" height="63.60000000000002" filter="url(#lrN)" style="mix-blend-mode:screen"/><path d="M128.8,234.0 L156,234.0 L153,260 L151,280 L148,303.6 L128.8,303.6 Z" fill="#000" opacity="0.88" filter="url(#bl2)"/><path d="M137,287 l-1,11" stroke="#d02020" stroke-width="1.2"/></g>
</g>
<text x="9" y="181.8" font-size="5.2" style="font-family:&quot;Liberation Sans&quot;,sans-serif;fill:#fff;stroke:none;font-weight:bold" textLength="21" lengthAdjust="spacingAndGlyphs">WT mock</text>
<text x="70" y="181.8" font-size="5.2" style="font-family:&quot;Liberation Sans&quot;,sans-serif;fill:#fff;stroke:none;font-weight:bold">treml1<tspan font-size="3" dy="-1.6">-/-</tspan><tspan dy="1.6"> mock</tspan></text>
<text x="135" y="181.8" font-size="5.2" style="font-family:&quot;Liberation Sans&quot;,sans-serif;fill:#fff;stroke:none;font-weight:bold">treml1<tspan font-size="3" dy="-1.6">-/-</tspan><tspan dy="1.6"> smTLT-1</tspan></text>
<rect x="0.5" y="0.5" width="518.8" height="307.8" fill="none" stroke="#000" stroke-width="1.2"/>
</svg>
</body></html>
